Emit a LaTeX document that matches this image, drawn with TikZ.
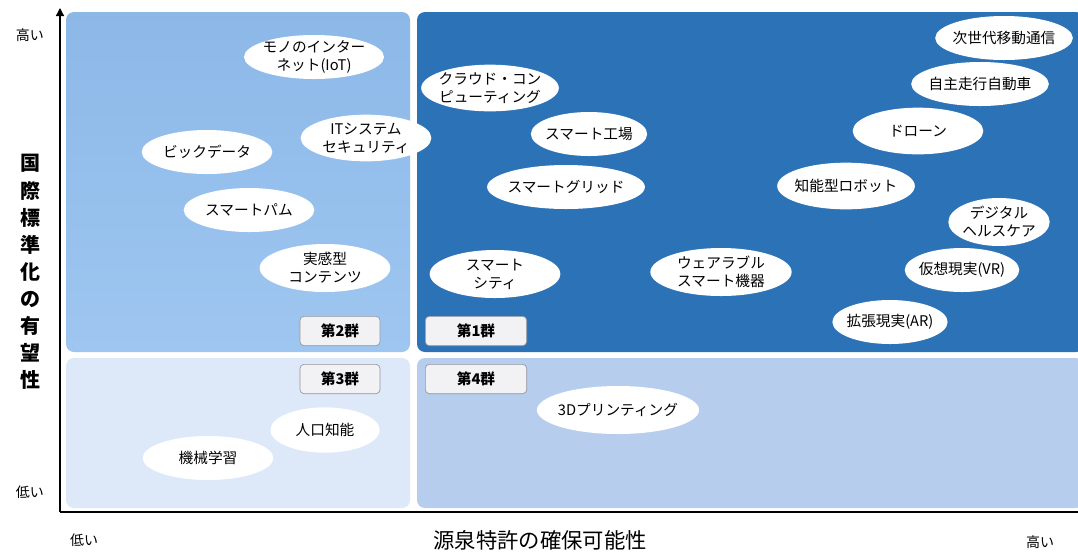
\documentclass[tikz,border=0pt]{standalone}
\usepackage{fontspec}
\setmainfont{Noto Sans CJK JP}
\usetikzlibrary{arrows.meta,shapes.geometric}
\definecolor{qone}{RGB}{44,114,182}
\definecolor{qtwotop}{RGB}{140,184,232}
\definecolor{qtwobot}{RGB}{158,198,240}
\definecolor{qthree}{RGB}{221,233,248}
\definecolor{qfour}{RGB}{182,205,238}
\definecolor{tagfill}{RGB}{242,242,244}
\definecolor{tagdraw}{RGB}{150,150,155}
\tikzset{
  quad/.style={rounded corners=6pt, draw=none},
  bub/.style={ellipse, fill=white, draw=none, inner sep=-2pt, align=center, font=\fontsize{11}{13.5}\selectfont, text=black},
  tag/.style={rounded corners=3pt, fill=tagfill, draw=tagdraw, line width=0.5pt, minimum width=60pt, minimum height=22pt, font=\bfseries\fontsize{11}{13}\selectfont, inner sep=0pt},
  axlbl/.style={font=\fontsize{10.5}{12}\selectfont, text=black},
}
\begin{document}
\begin{tikzpicture}[x=0.75pt,y=-0.75pt]
\useasboundingbox (0,0) rectangle (1078,551);
\fill[white] (0,0) rectangle (1078,551);
% quadrants
\shade[quad, top color=qtwotop, bottom color=qtwobot] (66,12) rectangle (410,352);
\fill[quad, qone] (417,12) rectangle (1084,352);
\fill[quad, qthree] (66,358) rectangle (410,508);
\fill[quad, qfour] (417,358) rectangle (1084,508);
% axes
\coordinate (o) at (60,512);
\coordinate (ytop) at (60,8);
\coordinate (xend) at (1078,512);
\draw[line width=1pt, -{Triangle[length=6pt,width=6pt]}] (o) -- (ytop);
\draw[line width=1pt] (o) -- (xend);
% axis labels
\node[axlbl] (yhi) at (30,35) {高い};
\node[axlbl] (ylo) at (30,492) {低い};
\node[axlbl] (xlo) at (84,540) {低い};
\node[axlbl] (xhi) at (1040,542) {高い};
\node[font=\fontsize{16}{18}\selectfont] (xt) at (540,540) {源泉特許の確保可能性};
\node[font=\bfseries\fontsize{15}{20.3}\selectfont, align=center] (yt) at (30,272) {国\\際\\標\\準\\化\\の\\有\\望\\性};
% group tags
\node[tag] (g2) at (340,331) {第2群};
\node[tag, minimum width=76pt] (g1) at (476,331) {第1群};
\node[tag] (g3) at (340,379) {第3群};
\node[tag, minimum width=76pt] (g4) at (476,379) {第4群};
% bubbles
\node[bub, minimum width=105pt, minimum height=33pt] (iot) at (314,57) {モノのインター\\ネット(IoT)};
\node[bub, minimum width=98pt, minimum height=35pt] (cloud) at (490,88) {クラウド・コン\\ピューティング};
\node[bub, minimum width=90pt, minimum height=33pt] (g5) at (1004,38) {次世代移動通信};
\node[bub, minimum width=92pt, minimum height=33pt] (car) at (980,84) {自主走行自動車};
\node[bub, minimum width=98pt, minimum height=35pt] (its) at (366,138) {ITシステム\\セキュリティ};
\node[bub, minimum width=98pt, minimum height=33pt] (bd) at (207,152) {ビックデータ};
\node[bub, minimum width=82pt, minimum height=33pt] (sf) at (589,134) {スマート工場};
\node[bub, minimum width=98pt, minimum height=35pt] (drone) at (918,131) {ドローン};
\node[bub, minimum width=83pt, minimum height=33pt] (sg) at (566,187) {スマートグリッド};
\node[bub, minimum width=98pt, minimum height=35pt] (robot) at (846,186) {知能型ロボット};
\node[bub, minimum width=98pt, minimum height=33pt] (sp) at (249,210) {スマートパム};
\node[bub, minimum width=76pt, minimum height=36pt] (dh) at (999,222) {デジタル\\ヘルスケア};
\node[bub, minimum width=98pt, minimum height=36pt] (rc) at (325,268) {実感型\\コンテンツ};
\node[bub, minimum width=98pt, minimum height=36pt] (sc) at (495,274) {スマート\\シティ};
\node[bub, minimum width=106pt, minimum height=36pt] (wear) at (721,272) {ウェアラブル\\スマート機器};
\node[bub, minimum width=83pt, minimum height=33pt] (vr) at (962,270) {仮想現実(VR)};
\node[bub, minimum width=83pt, minimum height=33pt] (ar) at (890,322) {拡張現実(AR)};
\node[bub, minimum width=98pt, minimum height=36pt] (p3d) at (618,410) {3Dプリンティング};
\node[bub, minimum width=82pt, minimum height=34pt] (ai) at (325,430) {人口知能};
\node[bub, minimum width=98pt, minimum height=33pt] (ml) at (208,458) {機械学習};
\end{tikzpicture}
\end{document}
